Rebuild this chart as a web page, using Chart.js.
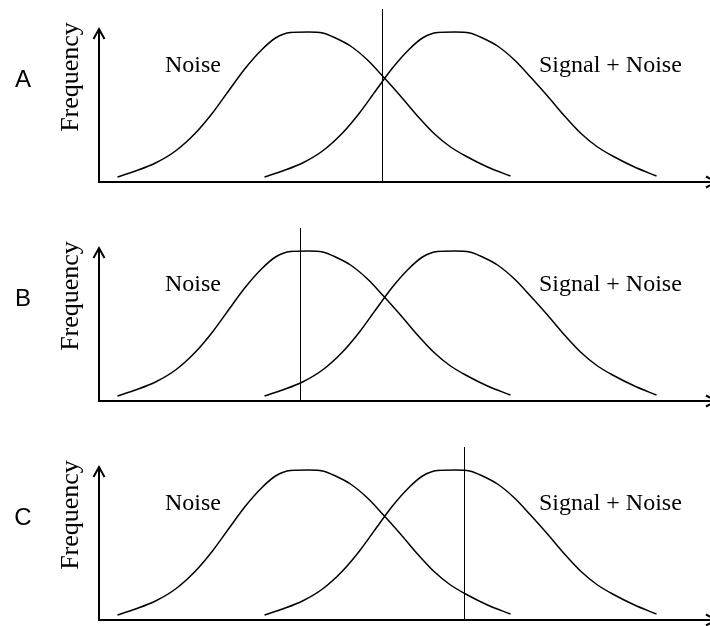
<!DOCTYPE html>
<html><head><meta charset="utf-8">
<script src="https://cdn.jsdelivr.net/npm/chart.js@4/dist/chart.umd.min.js"></script>
<style>html,body{margin:0;padding:0;background:#fff;width:710px;height:626px;overflow:hidden}canvas{display:block}</style>
</head><body>
<canvas id="c0" width="710" height="219"></canvas>
<canvas id="c1" width="710" height="219"></canvas>
<canvas id="c2" width="710" height="188"></canvas>
<script>
// ---- data (x: stimulus strength, y: frequency; arbitrary units) ----
const panelLabels = ['A', 'B', 'C'];
const seriesLabels = ['Noise', 'Signal + Noise'];
const yAxisTitle = 'Frequency';
const noiseX  = [18, 36, 56, 76, 96, 113, 129, 146, 163, 176, 191, 209, 223, 236, 251, 268, 284, 301, 318, 334, 351, 368, 388, 411];
const noiseY  = [5, 11, 19, 31, 49, 69, 91, 114, 133, 144, 149.5, 150, 149, 144, 136, 122, 105, 86, 66, 49, 35, 25, 15, 6];
const signalX = [165, 183, 203, 223, 243, 260, 276, 293, 310, 323, 338, 356, 370, 383, 398, 415, 431, 448, 465, 481, 498, 515, 535, 557];
const signalY = [5, 11, 19, 31, 49, 69, 91, 114, 133, 144, 149.5, 150, 149, 144, 136, 122, 105, 86, 66, 49, 35, 25, 15, 6];
const criterionX = [283, 201, 365];   // decision criterion for panels A, B, C
const criterionTop = 173;
const axisTop = 153;
const xMax = 611, yMax = 182;

const pts = (xs, ys) => xs.map((x, k) => ({x: x, y: ys[k]}));

function decorPlugin(label) {
  return {
    id: 'decor',
    afterDraw(chart) {
      const ctx = chart.ctx, ys = chart.scales.y;
      const x0 = chart.chartArea.left, y0 = ys.getPixelForValue(0);
      const yTop = ys.getPixelForValue(axisTop);
      const xEnd = chart.chartArea.right + 6;
      ctx.save();
      ctx.strokeStyle = '#000';
      ctx.lineWidth = 2;
      ctx.lineJoin = 'miter';
      ctx.lineCap = 'butt';
      // y axis
      ctx.beginPath();
      ctx.moveTo(x0, y0 + 1);
      ctx.lineTo(x0, yTop);
      ctx.stroke();
      ctx.beginPath();
      ctx.moveTo(x0 - 5.5, yTop + 10);
      ctx.lineTo(x0, yTop);
      ctx.lineTo(x0 + 5.5, yTop + 10);
      ctx.stroke();
      // x axis
      ctx.beginPath();
      ctx.moveTo(x0 - 1, y0);
      ctx.lineTo(xEnd, y0);
      ctx.stroke();
      ctx.beginPath();
      ctx.moveTo(xEnd - 10, y0 - 5.5);
      ctx.lineTo(xEnd, y0);
      ctx.lineTo(xEnd - 10, y0 + 5.5);
      ctx.stroke();
      // texts
      ctx.fillStyle = '#000';
      ctx.textBaseline = 'alphabetic';
      ctx.font = '24px "Liberation Sans", Arial, sans-serif';
      ctx.textAlign = 'center';
      ctx.fillText(label, 23, 87);
      ctx.font = '24px "Liberation Serif", "Times New Roman", serif';
      ctx.textAlign = 'left';
      ctx.fillText(seriesLabels[0], 165, 72);
      ctx.fillText(seriesLabels[1], 539, 72);
      ctx.translate(78, 77);
      ctx.rotate(-Math.PI / 2);
      ctx.font = '26px "Liberation Serif", "Times New Roman", serif';
      ctx.textAlign = 'center';
      ctx.fillText(yAxisTitle, 0, 0);
      ctx.restore();
    }
  };
}

panelLabels.forEach((label, i) => {
  const canvas = document.getElementById('c' + i);
  const H = canvas.height;
  new Chart(canvas, {
    type: 'line',
    data: {
      datasets: [
        {label: seriesLabels[0], data: pts(noiseX, noiseY), borderColor: '#000', borderWidth: 1.5,
         pointRadius: 0, cubicInterpolationMode: 'monotone', fill: false},
        {label: seriesLabels[1], data: pts(signalX, signalY), borderColor: '#000', borderWidth: 1.5,
         pointRadius: 0, cubicInterpolationMode: 'monotone', fill: false},
        {label: 'Criterion', data: [{x: criterionX[i], y: 0}, {x: criterionX[i], y: criterionTop}],
         borderColor: '#000', borderWidth: 1, pointRadius: 0, tension: 0, fill: false}
      ]
    },
    options: {
      responsive: false,
      animation: false,
      devicePixelRatio: 1,
      layout: {padding: {left: 99, right: 0, top: 0, bottom: H - 182}},
      plugins: {legend: {display: false}, tooltip: {enabled: false}},
      scales: {
        x: {type: 'linear', min: -0.5, max: xMax - 0.5, display: false},
        y: {type: 'linear', min: 0, max: yMax, display: false}
      }
    },
    plugins: [decorPlugin(label)]
  });
});
</script>
</body></html>
